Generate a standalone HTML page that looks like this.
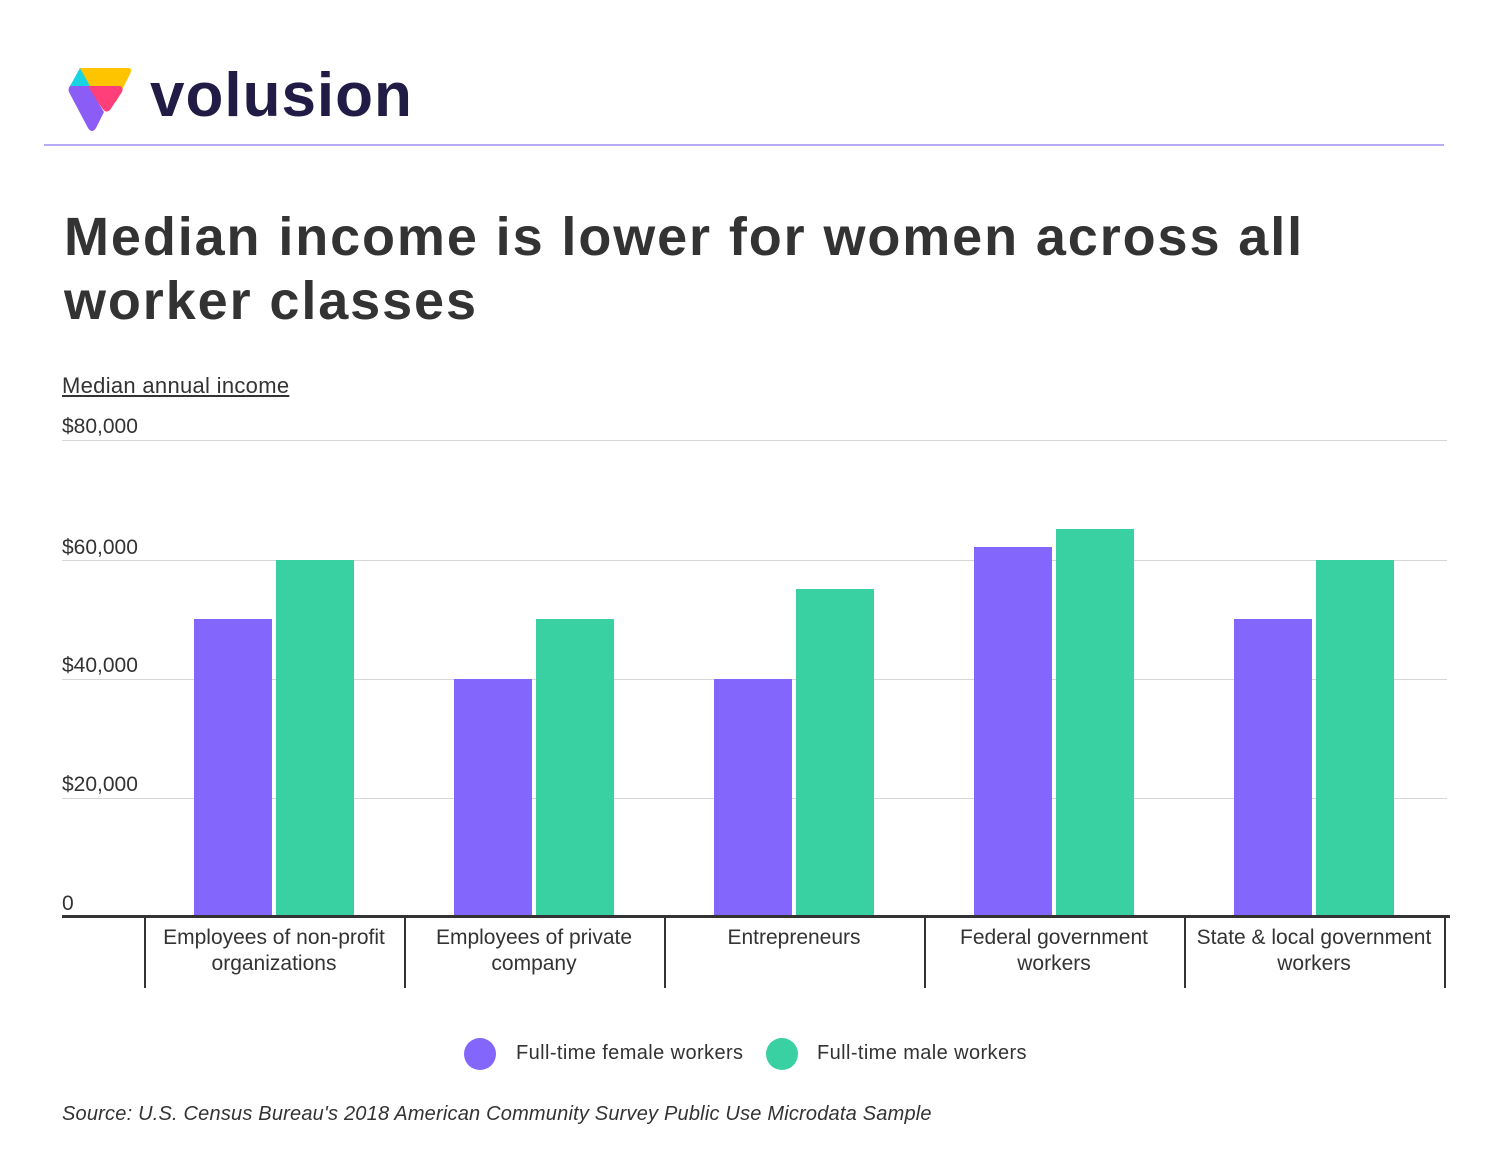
<!DOCTYPE html>
<html><head><style>
body{margin:0;width:1500px;height:1150px;background:#fff;font-family:"Liberation Sans",Arial,sans-serif;position:relative;overflow:hidden}
.a{position:absolute}
.grid{position:absolute;left:62px;width:1385px;height:1px;background:#d6d6d6}
.yl{position:absolute;left:62px;font-size:21px;color:#333}
.bar{position:absolute;width:78px;bottom:233px}
.f{background:#8366fb}.m{background:#3ad1a2}
.tick{position:absolute;top:918px;width:2px;height:70px;background:#333}
.xl{position:absolute;top:925px;width:258px;text-align:center;font-size:21px;line-height:26px;color:#333}
</style></head><body>
<svg class="a" style="left:66px;top:64px" width="68" height="70" viewBox="0 0 68 70">
<path d="M14 4 L62 4 Q67 4 64 10 L50 38 L26 30 Z" fill="#ffc400"/>
<path d="M14 4 L4 22 L24 22 Z" fill="#1ad3e0"/>
<path d="M20 22 L54 22 Q58 24 56 28 L44 46 Q40 50 36 44 Z" fill="#ff3f7a"/>
<path d="M4 22 L22 22 L38 48 L30 64 Q26 70 22 64 L4 30 Q1 25 4 22 Z" fill="#8b5cf6"/>
</svg>
<div class="a" style="left:150px;top:60px;font-size:62px;font-weight:bold;color:#211c45;letter-spacing:1px">volusion</div>
<div class="a" style="left:44px;top:144px;width:1400px;height:2px;background:#b9aaf7"></div>
<div class="a" style="left:64px;top:205px;font-size:54px;font-weight:bold;color:#333;line-height:64px;letter-spacing:1.9px">Median income is lower for women across all<br>worker classes</div>
<div class="a" style="left:62px;top:373px;font-size:22px;color:#333;text-decoration:underline;letter-spacing:0.3px">Median annual income</div>
<div class="grid" style="top:440px"></div>
<div class="grid" style="top:560px"></div>
<div class="grid" style="top:679px"></div>
<div class="grid" style="top:798px"></div>
<div class="yl" style="top:415px">$80,000</div>
<div class="yl" style="top:536px">$60,000</div>
<div class="yl" style="top:654px">$40,000</div>
<div class="yl" style="top:773px">$20,000</div>
<div class="yl" style="top:892px">0</div>
<div class="bar f" style="left:194px;height:298px"></div><div class="bar m" style="left:276px;height:357px"></div>
<div class="bar f" style="left:454px;height:238px"></div><div class="bar m" style="left:536px;height:298px"></div>
<div class="bar f" style="left:714px;height:238px"></div><div class="bar m" style="left:796px;height:328px"></div>
<div class="bar f" style="left:974px;height:370px"></div><div class="bar m" style="left:1056px;height:388px"></div>
<div class="bar f" style="left:1234px;height:298px"></div><div class="bar m" style="left:1316px;height:357px"></div>
<div class="a" style="left:62px;top:915px;width:1388px;height:3px;background:#333"></div>
<div class="tick" style="left:144px"></div><div class="tick" style="left:404px"></div><div class="tick" style="left:664px"></div><div class="tick" style="left:924px"></div><div class="tick" style="left:1184px"></div><div class="tick" style="left:1444px"></div>
<div class="xl" style="left:145px">Employees of non-profit<br>organizations</div>
<div class="xl" style="left:405px">Employees of private<br>company</div>
<div class="xl" style="left:665px">Entrepreneurs</div>
<div class="xl" style="left:925px">Federal government<br>workers</div>
<div class="xl" style="left:1185px">State &amp; local government<br>workers</div>
<div class="a" style="left:464px;top:1038px;width:32px;height:32px;border-radius:50%;background:#8366fb"></div>
<div class="a" style="left:516px;top:1042px;font-size:20px;color:#333;letter-spacing:0.4px">Full-time female workers</div>
<div class="a" style="left:766px;top:1038px;width:32px;height:32px;border-radius:50%;background:#3ad1a2"></div>
<div class="a" style="left:817px;top:1042px;font-size:20px;color:#333;letter-spacing:0.4px">Full-time male workers</div>
<div class="a" style="left:62px;top:1103px;font-size:20px;font-style:italic;color:#333;letter-spacing:0.2px">Source: U.S. Census Bureau's 2018 American Community Survey Public Use Microdata Sample</div>
</body></html>
